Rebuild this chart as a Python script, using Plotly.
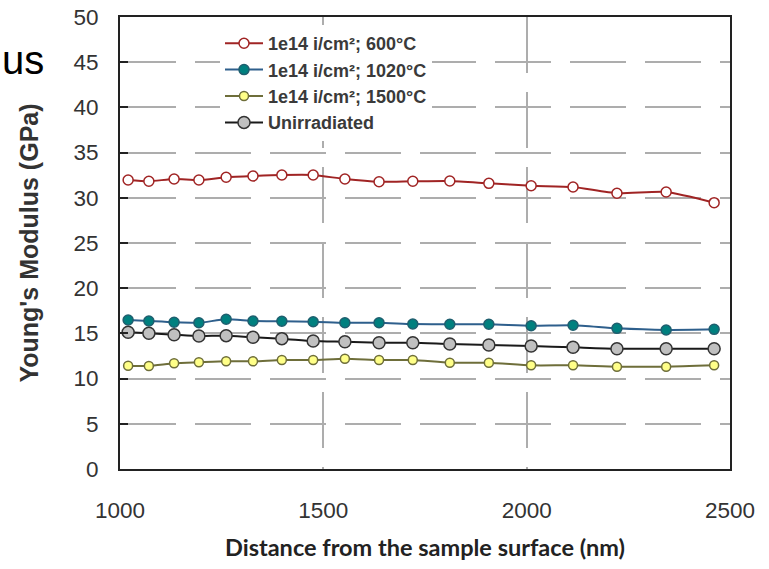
import plotly.graph_objects as go

# Data
depth_nm = [1020, 1071, 1133, 1194, 1261, 1327, 1398, 1475, 1553, 1637, 1720,
            1811, 1907, 2011, 2114, 2222, 2343, 2461]
mod_600 = [31.97, 31.83, 32.08, 31.97, 32.27, 32.41, 32.52, 32.52, 32.08, 31.78,
           31.83, 31.86, 31.6, 31.33, 31.19, 30.5, 30.64, 29.46]
mod_1020 = [16.48, 16.37, 16.23, 16.18, 16.56, 16.37, 16.34, 16.29, 16.18, 16.18,
            16.04, 16.01, 16.01, 15.85, 15.9, 15.56, 15.38, 15.45]
mod_1500 = [11.43, 11.39, 11.69, 11.8, 11.91, 11.91, 12.06, 12.06, 12.2, 12.06,
            12.06, 11.76, 11.76, 11.47, 11.47, 11.32, 11.32, 11.47]
mod_unirr = [15.12, 15.01, 14.86, 14.71, 14.75, 14.57, 14.42, 14.16, 14.08, 13.97,
             13.97, 13.83, 13.72, 13.61, 13.46, 13.31, 13.31, 13.31]

series_names = ["1e14 i/cm²; 600°C", "1e14 i/cm²; 1020°C", "1e14 i/cm²; 1500°C", "Unirradiated"]
x_ticks = [1000, 1500, 2000, 2500]
y_ticks = [0, 5, 10, 15, 20, 25, 30, 35, 40, 45, 50]

styles = [
    dict(line="#a02424", fill="#ffffff", edge="#a02424", size=10),
    dict(line="#2e5f8c", fill="#00807f", edge="#1f5f6f", size=10),
    dict(line="#6e6e3a", fill="#ffff88", edge="#6e6e3a", size=9),
    dict(line="#1a1a1a", fill="#c0c0c0", edge="#333333", size=12),
]

fig = go.Figure()
for name, ys, st in zip(series_names, [mod_600, mod_1020, mod_1500, mod_unirr], styles):
    fig.add_trace(go.Scatter(
        x=depth_nm, y=ys, name=name, mode="lines+markers",
        line=dict(color=st["line"], width=2, shape="spline", smoothing=0.6),
        marker=dict(size=st["size"], color=st["fill"], line=dict(color=st["edge"], width=1.5)),
    ))

grid_dash = "56px,19px"
fig.update_layout(
    width=769, height=569,
    margin=dict(l=120, r=39, t=17, b=100),
    paper_bgcolor="white", plot_bgcolor="white",
    font=dict(family="Liberation Sans, Arial", color="#333333"),
    showlegend=True,
    legend=dict(
        x=(220 - 120) / 610, y=(469 - 25) / 452, xanchor="left", yanchor="top",
        bgcolor="white", borderwidth=0,
        font=dict(family="Liberation Sans, Arial", size=18, color="#3a3a3a", weight="bold"),
        itemwidth=38, tracegroupgap=0,
    ),
    xaxis=dict(
        range=[1000, 2500], tickvals=x_ticks, ticktext=[str(v) for v in x_ticks],
        showgrid=True, gridcolor="#adadad", gridwidth=1.5, griddash=grid_dash,
        showline=True, linecolor="#222222", linewidth=2, mirror=True,
        ticks="", tickfont=dict(size=22.5, color="#333333"), ticklabelstandoff=20,
        zeroline=False, automargin=False,
        title=dict(text="Distance from the sample surface (nm)",
                   font=dict(family="Lato, Open Sans", size=23.5, color="#222222", weight="bold"),
                   standoff=18),
    ),
    yaxis=dict(
        range=[0, 50], tickvals=y_ticks, ticktext=[str(v) for v in y_ticks],
        showgrid=True, gridcolor="#adadad", gridwidth=1.5, griddash=grid_dash,
        showline=True, linecolor="#222222", linewidth=2, mirror=True,
        ticks="inside", ticklen=8, tickcolor="#222222", tickwidth=1.5,
        tickfont=dict(size=22.5, color="#333333"), ticklabelstandoff=15,
        zeroline=False, automargin=False,
        title=dict(text="Young's Modulus (GPa)",
                   font=dict(family="Liberation Sans, Arial", size=25, color="#333333", weight="bold"),
                   standoff=28),
    ),
)

fig.add_annotation(
    text="us", xref="paper", yref="paper",
    x=(46 - 120) / 610, y=(469 - 60) / 452, xanchor="right", yanchor="middle",
    showarrow=False, font=dict(family="Liberation Sans, Arial", size=40, color="#000000"),
)

fig.write_html("out.html")
